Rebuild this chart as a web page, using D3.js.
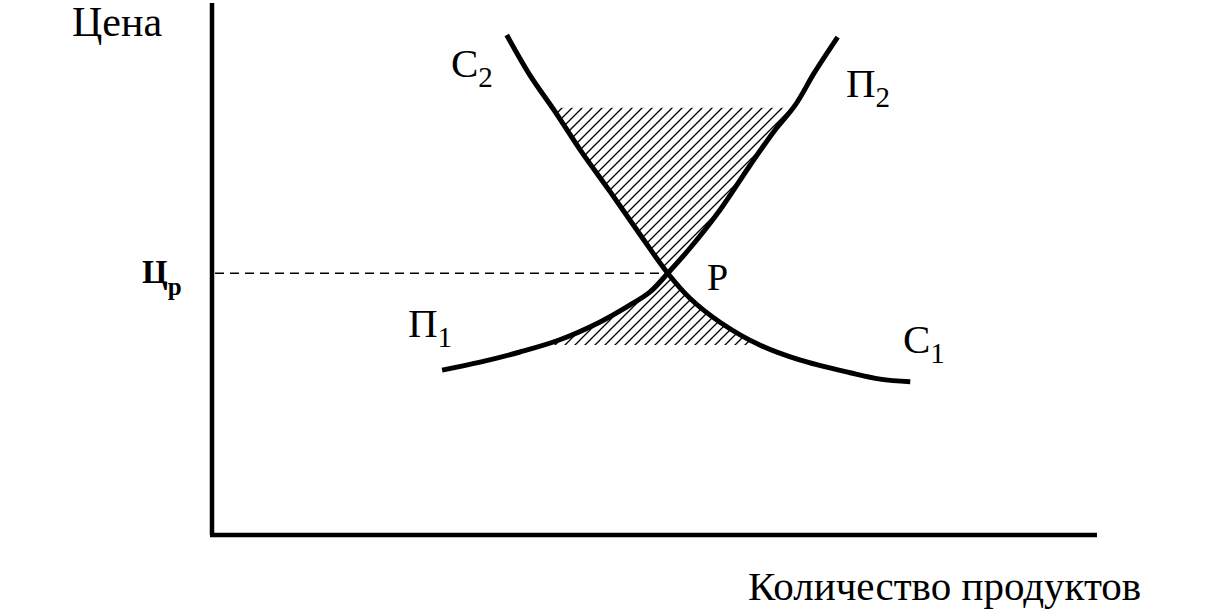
<!DOCTYPE html>
<html><head><meta charset="utf-8">
<script src="https://cdn.jsdelivr.net/npm/d3@7"></script>
<style>body{margin:0;background:#fff}svg{display:block}text{font-family:"Liberation Serif","Times New Roman",serif;fill:#000}</style>
</head><body>
<svg id="chart" width="1220" height="612"></svg>
<script>
// Demand curve (С2 → С1), quantity / price in axis units (0..100)
const demandQty   = [33.3, 35.9, 38.8, 41.6, 45.0, 48.4, 51.5, 54.0, 57.4, 61.9, 66.4, 72.1, 75.5, 78.9];
const demandPrice = [94.0, 86.5, 79.5, 72.4, 64.5, 56.4, 49.2, 44.5, 40.0, 35.7, 32.9, 30.5, 29.3, 28.8];
// Supply curve (П1 → П2)
const supplyQty   = [26.0, 30.3, 34.8, 39.3, 43.8, 47.2, 49.5, 51.5, 54.0, 57.4, 60.8, 63.6, 65.9, 68.1, 70.7];
const supplyPrice = [31.0, 32.5, 34.4, 36.7, 40.0, 43.2, 45.7, 49.2, 53.9, 61.1, 69.5, 76.1, 80.8, 87.0, 93.6];
// Equilibrium point P and hatched bands
const equilibrium = {qty: 51.5, price: 49.2};
const hatchTopPrice = 80.3;
const hatchBottomPrice = 35.7;
// Texts
const axisTitleY = "Цена";
const axisTitleX = "Количество продуктов";
const eqPriceLabel = ["Ц", "р"];
const eqPointLabel = "P";
const curveLabels = [
  {name: "С", sub: "2", x: 451, y: 77},
  {name: "П", sub: "2", x: 846, y: 97},
  {name: "П", sub: "1", x: 408, y: 337},
  {name: "С", sub: "1", x: 903, y: 353}
];

const svg = d3.select("#chart");
const x = d3.scaleLinear().domain([0, 100]).range([212, 1097]);
const y = d3.scaleLinear().domain([0, 100]).range([535, 3]);

// hatch pattern
const defs = svg.append("defs");
const pat = defs.append("pattern").attr("id", "hatch").attr("patternUnits", "userSpaceOnUse")
  .attr("width", 10).attr("height", 10);
pat.append("path").attr("d", "M-1,1 L1,-1 M0,10 L10,0 M9,11 L11,9")
  .attr("stroke", "#000").attr("stroke-width", 1.3);

function clipCurve(xs, ys, lo, hi) {
  const pts = [];
  const inside = v => v >= lo - 1e-9 && v <= hi + 1e-9;
  for (let i = 0; i < xs.length; i++) {
    if (i > 0) {
      const y0 = ys[i - 1], y1 = ys[i];
      for (const L of [lo, hi]) {
        if ((y0 - L) * (y1 - L) < 0) {
          const t = (L - y0) / (y1 - y0);
          pts.push([xs[i - 1] + t * (xs[i] - xs[i - 1]), L]);
        }
      }
    }
    if (inside(ys[i])) pts.push([xs[i], ys[i]]);
  }
  return pts;
}
const poly = d3.line().x(d => x(d[0])).y(d => y(d[1]));
const topPoly = clipCurve(demandQty, demandPrice, equilibrium.price, hatchTopPrice)
  .concat(clipCurve(supplyQty, supplyPrice, equilibrium.price, hatchTopPrice));
const botPoly = clipCurve(supplyQty, supplyPrice, hatchBottomPrice, equilibrium.price)
  .concat(clipCurve(demandQty, demandPrice, hatchBottomPrice, equilibrium.price));
svg.append("path").attr("d", poly(topPoly) + "Z").attr("fill", "url(#hatch)");
svg.append("path").attr("d", poly(botPoly) + "Z").attr("fill", "url(#hatch)");

// axes
svg.append("line").attr("x1", x(0)).attr("x2", x(0)).attr("y1", y(100)).attr("y2", y(0))
  .attr("stroke", "#000").attr("stroke-width", 4.5);
svg.append("line").attr("x1", x(0) - 2).attr("x2", x(100)).attr("y1", y(0)).attr("y2", y(0))
  .attr("stroke", "#000").attr("stroke-width", 4.5);

// dashed equilibrium price line
svg.append("line").attr("x1", x(0) + 3).attr("x2", x(equilibrium.qty)).attr("y1", y(equilibrium.price)).attr("y2", y(equilibrium.price))
  .attr("stroke", "#000").attr("stroke-width", 1.6).attr("stroke-dasharray", "9,6");

// curves
const curve = d3.line().x(d => x(d[0])).y(d => y(d[1])).curve(d3.curveCatmullRom.alpha(0.5));
svg.append("path").attr("d", curve(d3.zip(demandQty, demandPrice)))
  .attr("fill", "none").attr("stroke", "#000").attr("stroke-width", 5).attr("stroke-linecap", "butt");
svg.append("path").attr("d", curve(d3.zip(supplyQty, supplyPrice)))
  .attr("fill", "none").attr("stroke", "#000").attr("stroke-width", 5).attr("stroke-linecap", "butt");

// texts
svg.append("text").attr("x", 72).attr("y", 36).attr("font-size", 42).text(axisTitleY);
svg.append("text").attr("x", 748).attr("y", 600).attr("font-size", 41).text(axisTitleX);
const tp = svg.append("text").attr("x", 142).attr("y", 283).attr("font-size", 33).attr("font-weight", "bold");
tp.append("tspan").text(eqPriceLabel[0]);
tp.append("tspan").attr("dy", 12).attr("font-size", 25).text(eqPriceLabel[1]);
svg.append("text").attr("x", 707).attr("y", 290).attr("font-size", 38).text(eqPointLabel);
curveLabels.forEach(l => {
  const t = svg.append("text").attr("x", l.x).attr("y", l.y).attr("font-size", 41);
  t.append("tspan").text(l.name);
  t.append("tspan").attr("dy", 10).attr("font-size", 29).text(l.sub);
});
</script>
</body></html>
